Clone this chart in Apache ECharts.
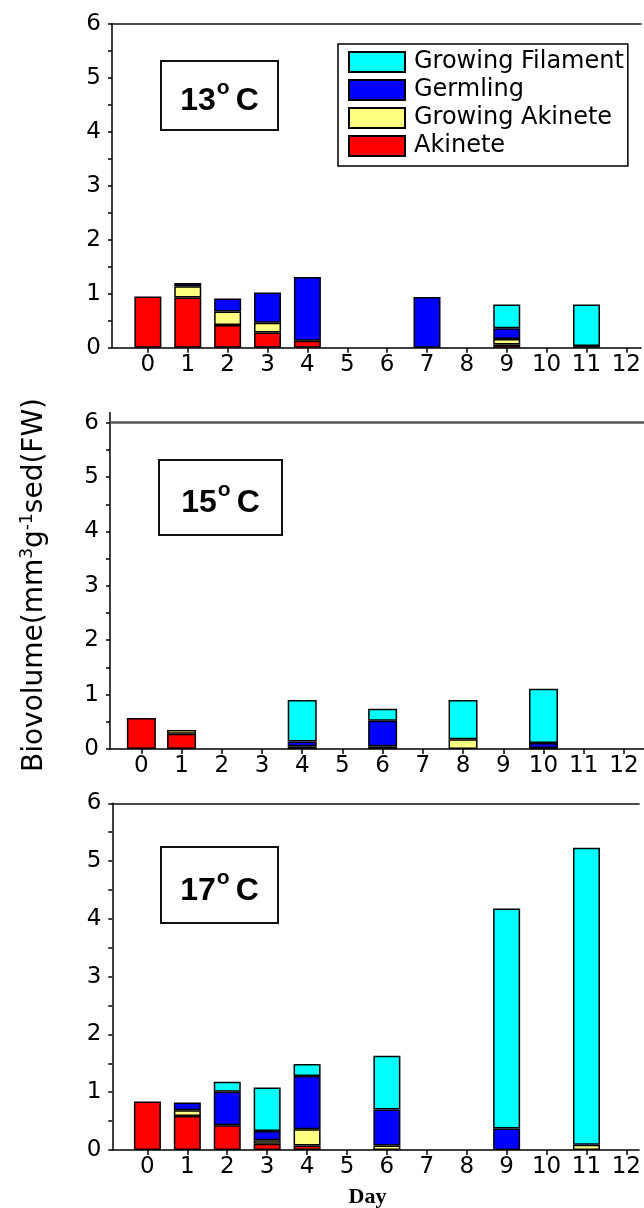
<!DOCTYPE html>
<html>
<head>
<meta charset="utf-8">
<script src="https://cdn.jsdelivr.net/npm/echarts@6/dist/echarts.min.js"></script>
<style>
html,body{margin:0;padding:0;background:#fff;}
#chart{width:644px;height:1208px;}
</style>
</head>
<body>
<div id="chart"></div>
<script>
// ---- data ----
const days = [0,1,2,3,4,5,6,7,8,9,10,11,12];
const tickLabels = ['0','1','2','3','4','5','6','7','8','9','10','11','12'];
const seriesNames = ['Akinete','Growing Akinete','Germling','Growing Filament'];
const panelTitles = ['13', '15', '17'];

// 13 °C
const akinete13         = [0.95,0.93,0.42,0.28,0.13,0,0,0,0,0.06,0,0,0];
const growingAkinete13  = [0,0.21,0.25,0.18,0,0,0,0,0,0.10,0,0,0];
const germling13        = [0,0.06,0.24,0.56,1.18,0,0,0.94,0,0.20,0,0.03,0];
const growingFilament13 = [0,0,0,0,0,0,0,0,0,0.44,0,0.77,0];
// 15 °C
const akinete15         = [0.57,0.28,0,0,0,0,0,0,0,0,0,0,0];
const growingAkinete15  = [0,0.07,0,0,0.05,0,0.05,0,0.18,0,0.02,0,0];
const germling15        = [0,0,0,0,0.09,0,0.47,0,0,0,0.09,0,0];
const growingFilament15 = [0,0,0,0,0.76,0,0.22,0,0.72,0,1.00,0,0];
// 17 °C
const akinete17         = [0.84,0.59,0.43,0.11,0.08,0,0,0,0,0,0,0,0];
const growingAkinete17  = [0,0.10,0,0.06,0.28,0,0.08,0,0,0,0,0.09,0];
const germling17        = [0,0.13,0.58,0.16,0.92,0,0.62,0,0,0.37,0,0,0];
const growingFilament17 = [0,0,0.17,0.75,0.21,0,0.93,0,0,3.81,0,5.14,0];

const panels = [
  [akinete13, growingAkinete13, germling13, growingFilament13],
  [akinete15, growingAkinete15, germling15, growingFilament15],
  [akinete17, growingAkinete17, germling17, growingFilament17]
];

// ---- layout / style ----
const colors = {'Akinete':'#FF0000','Growing Akinete':'#FFFF80','Germling':'#0000FF','Growing Filament':'#00FFFF'};
const grids = [
  {left:112, top:23.7, width:532, height:324, min:-0.9, max:12.37, barW:27, topColor:'#111', topW:1.5},
  {left:110, top:422.7, width:534, height:326.3, min:-0.78, max:12.5, barW:29, topColor:'#555', topW:2.5},
  {left:112.3, top:803.3, width:531.7, height:346.7, min:-0.88, max:12.32, barW:27, topColor:'#111', topW:1.5}
];
const FONT = 'DejaVu Sans';

const option = {
  backgroundColor:'#ffffff',
  animation:false,
  grid: grids.map(g => ({left:g.left, top:g.top, width:g.width, height:g.height})),
  xAxis: [],
  yAxis: [],
  series: [],
  legend: {
    data:['Growing Filament','Germling','Growing Akinete','Akinete'],
    orient:'vertical',
    icon:'rect',
    left:338, top:44,
    itemWidth:56, itemHeight:20, itemGap:4,
    padding:[6,4,8,10],
    borderColor:'#000', borderWidth:1.5,
    backgroundColor:'#fff',
    textStyle:{fontFamily:FONT, fontSize:24, color:'#000', lineHeight:22, padding:[0,0,0,4]}
  },
  graphic: []
};

grids.forEach((g, i) => {
  option.xAxis.push({
    type:'value', gridIndex:i, min:g.min, max:g.max, position:'bottom',
    splitLine:{show:false},
    axisLine:{show:true, onZero:false, lineStyle:{color:'#000', width:1.5}},
    axisTick:{show:true, length:5, inside:false, customValues:days, lineStyle:{color:'#000', width:1.5}},
    axisLabel:{show:true, customValues:days, formatter:v => tickLabels[days.indexOf(Math.round(v))] || '',
      fontFamily:FONT, fontSize:23, color:'#000', margin:6}
  });
  option.xAxis.push({
    type:'value', gridIndex:i, min:g.min, max:g.max, position:'top',
    splitLine:{show:false},
    axisLine:{show:true, onZero:false, lineStyle:{color:g.topColor, width:g.topW}},
    axisTick:{show:false}, axisLabel:{show:false}
  });
  option.yAxis.push({
    type:'value', gridIndex:i, min:0, max:6, interval:1,
    splitLine:{show:false},
    axisLine:{show:true, onZero:false, lineStyle:{color:'#000', width:1.5}},
    axisTick:{show:true, length:4, inside:false, lineStyle:{color:'#000', width:1.5}},
    minorTick:{show:true, splitNumber:2, length:4, lineStyle:{color:'#000', width:1.5}},
    axisLabel:{fontFamily:FONT, fontSize:23, color:'#000', margin:11}
  });
  panels[i].forEach((vals, k) => {
    const name = seriesNames[k];
    // value first so that the stacked dimension is the y value
    const data = days.map((d, j) => [vals[j] > 0 ? vals[j] : '-', d]);
    option.series.push({
      type:'bar', name:name, stack:'p'+i,
      xAxisIndex:i*2, yAxisIndex:i,
      encode:{x:1, y:0},
      barWidth:g.barW,
      itemStyle:{color:colors[name], borderColor:'#000', borderWidth:1.5},
      data:data
    });
  });
});

// temperature labels
const boxes = [
  {x:161, y:61, w:117, h:69},
  {x:159, y:460, w:123, h:75},
  {x:161, y:847, w:117, h:76}
];
boxes.forEach((b, i) => {
  option.graphic.push({
    type:'rect', shape:{x:b.x, y:b.y, width:b.w, height:b.h},
    style:{fill:'#fff', stroke:'#111', lineWidth:2}
  });
  option.graphic.push({
    type:'text', x:b.x + b.w/2, y:b.y + b.h/2 + 6,
    style:{
      text:'{a|' + panelTitles[i] + '}{s|o}{a|C}',
      align:'center', verticalAlign:'middle',
      rich:{
        a:{font:'bold 32px "Liberation Sans"', fill:'#000'},
        s:{font:'bold 21px "Liberation Sans"', fill:'#000', padding:[0,6,26,1]}
      }
    }
  });
});

// extra y axis stub above middle panel
option.graphic.push({type:'line', shape:{x1:110, y1:412, x2:110, y2:423}, style:{stroke:'#000', lineWidth:1.5}});

// y axis title
option.graphic.push({
  type:'text', x:35, y:585, rotation:Math.PI/2,
  style:{
    text:'{a|Biovolume(mm}{s|3}{a|g}{s|-1}{a|sed(FW)}',
    align:'center', verticalAlign:'middle',
    rich:{
      a:{font:'28px "DejaVu Sans"', fill:'#000'},
      s:{font:'17px "DejaVu Sans"', fill:'#000', padding:[0,0,14,0]}
    }
  }
});

// x axis title
option.graphic.push({
  type:'text', x:367.5, y:1197,
  style:{text:'Day', font:'bold 22px "Liberation Serif"', fill:'#000', align:'center', verticalAlign:'middle'}
});

const chart = echarts.init(document.getElementById('chart'), null, {renderer:'canvas'});
chart.setOption(option);
</script>
</body>
</html>
